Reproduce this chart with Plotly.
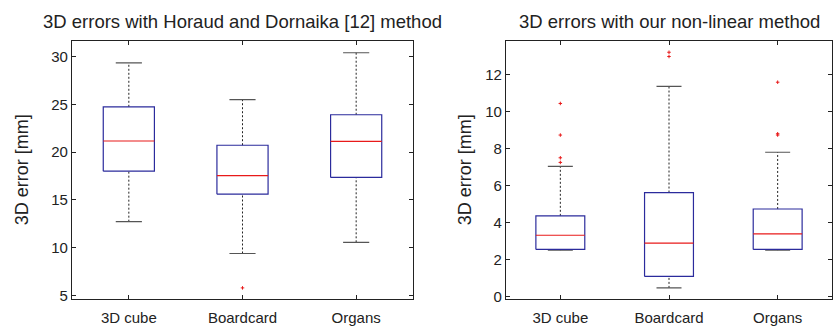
import plotly.graph_objects as go

categories = ["3D cube", "Boardcard", "Organs"]

# Left panel: Horaud and Dornaika [12]
left_lower = [12.73, 9.40, 10.57]
left_q1 = [18.01, 15.61, 17.36]
left_median = [21.17, 17.54, 21.14]
left_q3 = [24.75, 20.73, 23.92]
left_upper = [29.34, 25.50, 30.41]
left_outliers = [[], [5.8], []]

# Right panel: non-linear method
right_lower = [2.50, 0.46, 2.50]
right_q1 = [2.54, 1.08, 2.54]
right_median = [3.31, 2.88, 3.38]
right_q3 = [4.36, 5.62, 4.73]
right_upper = [7.04, 11.36, 7.80]
right_outliers = [[10.44, 8.73, 7.50, 7.25], [13.21, 12.98], [11.59, 8.80, 8.73]]

titles = ["3D errors with Horaud and Dornaika [12] method",
          "3D errors with our non-linear method"]
ylabel = "3D error [mm]"

BOX_COLOR = "#2b2b9c"
MED_COLOR = "#e81a1a"
WHISK_COLOR = "#222222"
CAP_COLOR = "#555555"
FONT = "Liberation Sans, Arial, Helvetica, sans-serif"

fig = go.Figure()

def add_panel(lower, q1, med, q3, upper, outl, xa, ya):
    hw = 0.225
    cw = 0.115
    bx, by, mx, my, wx, wy, cx, cy, ox, oy = [], [], [], [], [], [], [], [], [], []
    for i in range(len(categories)):
        p = i + 1
        bx += [p - hw, p + hw, p + hw, p - hw, p - hw, None]
        by += [q1[i], q1[i], q3[i], q3[i], q1[i], None]
        mx += [p - hw, p + hw, None]
        my += [med[i], med[i], None]
        wx += [p, p, None, p, p, None]
        wy += [q3[i], upper[i], None, lower[i], q1[i], None]
        cx += [p - cw, p + cw, None, p - cw, p + cw, None]
        cy += [upper[i], upper[i], None, lower[i], lower[i], None]
        for v in outl[i]:
            ox.append(p)
            oy.append(v)
    common = dict(mode="lines", xaxis=xa, yaxis=ya, showlegend=False, hoverinfo="skip")
    fig.add_trace(go.Scatter(x=wx, y=wy, line=dict(color=WHISK_COLOR, width=1, dash="2px,2px"), **common))
    fig.add_trace(go.Scatter(x=cx, y=cy, line=dict(color=CAP_COLOR, width=1.2), **common))
    fig.add_trace(go.Scatter(x=bx, y=by, line=dict(color=BOX_COLOR, width=1.2), **common))
    fig.add_trace(go.Scatter(x=mx, y=my, line=dict(color=MED_COLOR, width=1.2), **common))
    fig.add_trace(go.Scatter(x=ox, y=oy, mode="markers", xaxis=xa, yaxis=ya, showlegend=False,
                             marker=dict(symbol="cross-thin", size=2.5, line=dict(color=MED_COLOR, width=1),
                                         color=MED_COLOR)))

add_panel(left_lower, left_q1, left_median, left_q3, left_upper, left_outliers, "x", "y")
add_panel(right_lower, right_q1, right_median, right_q3, right_upper, right_outliers, "x2", "y2")

ydom = [1 - 304 / 327, 1 - 42 / 327]
xcommon = dict(tickvals=[1, 2, 3], ticktext=categories, range=[0.5, 3.5], ticks="inside",
               ticklen=4, tickcolor="#222", showline=True, linecolor="#222", linewidth=1.2,
               mirror="ticks", showgrid=False, zeroline=False, ticklabelstandoff=5,
               tickfont=dict(family=FONT, size=15, color="#222"))
ycommon = dict(ticks="inside", ticklen=4, tickcolor="#222", showline=True, linecolor="#222",
               linewidth=1.2, mirror="ticks", showgrid=False, zeroline=False,
               tickfont=dict(family=FONT, size=15, color="#222"))

ymid = 1 - 173 / 327
ann = []
for t, cx in zip(titles, [(72 + 413) / 2 / 833, (506 + 832) / 2 / 833]):
    ann.append(dict(text=t, x=cx, y=1 - 22 / 327, xref="paper", yref="paper",
                    showarrow=False, xanchor="center", yanchor="middle",
                    font=dict(family=FONT, size=18.5, color="#222")))
for lx in [22 / 833, 465 / 833]:
    ann.append(dict(text=ylabel, x=lx, y=ymid, xref="paper", yref="paper", textangle=-90,
                    showarrow=False, xanchor="center", yanchor="middle",
                    font=dict(family=FONT, size=18, color="#222")))

fig.update_layout(
    width=833, height=327,
    margin=dict(l=0, r=0, t=0, b=0),
    paper_bgcolor="white", plot_bgcolor="white",
    xaxis=dict(domain=[72 / 833, 413 / 833], anchor="y", **xcommon),
    yaxis=dict(domain=ydom, anchor="x", range=[4.6, 31.6], tickvals=[5, 10, 15, 20, 25, 30], **ycommon),
    xaxis2=dict(domain=[506 / 833, 832 / 833], anchor="y2", **xcommon),
    yaxis2=dict(domain=ydom, anchor="x2", range=[-0.16, 13.8], tickvals=[0, 2, 4, 6, 8, 10, 12], **ycommon),
    annotations=ann,
)

fig.write_html("out.html")
